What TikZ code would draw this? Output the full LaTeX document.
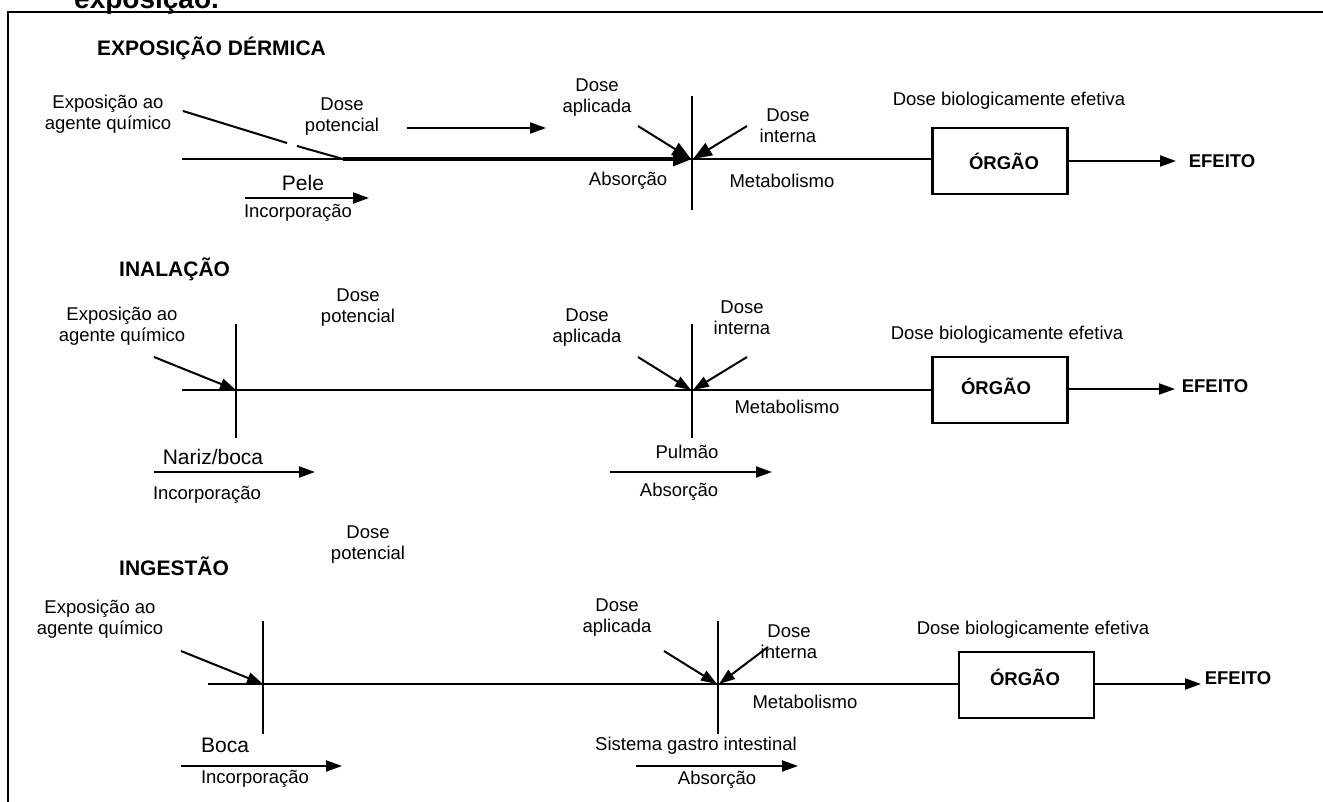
\documentclass[tikz,border=0pt]{standalone}
\usepackage{fontspec}
\setmainfont{Liberation Sans}
\usetikzlibrary{arrows.meta}
\begin{document}
\begin{tikzpicture}[x=1pt,y=-1pt,
  lbl/.style={inner sep=0pt,align=center,font=\fontsize{18.5}{21}\selectfont},
  bigl/.style={inner sep=0pt,align=center,font=\fontsize{21}{24}\selectfont},
  hd/.style={inner sep=0pt,anchor=west,font=\fontsize{21}{24}\selectfont\bfseries},
  bx/.style={draw,line width=2.2pt,minimum width=135pt,minimum height=66pt,inner sep=0pt},
  bxt/.style={inner sep=0pt,font=\fontsize{18.5}{21}\selectfont\bfseries},
  ln/.style={line width=2pt},
  arr/.style={line width=2pt,-{Triangle[length=16pt,width=11pt]}},
  barr/.style={line width=2pt,-{Triangle[length=19pt,width=14pt]}},
  frame/.style={line width=2.4pt}]
\useasboundingbox (0,0) rectangle (1323,801);
% caption fragment (cropped by the page, as in the reference)
\node[inner sep=0pt,anchor=base west,font=\fontsize{28}{30}\selectfont\bfseries] (cap) at (74,8) {exposição.};
% frame
\coordinate (fbl) at (8,802);
\coordinate (ftl) at (8,12);
\coordinate (ftr) at (1324,12);
\draw[frame] (fbl) -- (ftl) -- (ftr);

% ================= ROW 1: EXPOSIÇÃO DÉRMICA =================
\node[hd] (h1) at (97,48) {EXPOSIÇÃO DÉRMICA};
\node[lbl] (e1) at (108,114) {Exposição ao\\agente químico};
\node[lbl] (p1) at (342,117) {Dose\\potencial};
\node[lbl] (a1) at (597,98) {Dose\\aplicada};
\node[lbl] (i1) at (788,126) {Dose\\interna};
\node[lbl] (abs1) at (628,181) {Absorção};
\node[lbl] (met1) at (782,181) {Metabolismo};
\node[bigl] (pele) at (303,183) {Pele};
\node[lbl] (inc1) at (298,213) {Incorporação};
\node[lbl] (db1) at (1009,101) {Dose biologicamente efetiva};
\node[bx] (o1) at (1000,161) {};
\node[bxt] (o1t) at (1004,161) {ÓRGÃO};
\node[bxt] (ef1) at (1222,161) {EFEITO};

\coordinate (l1s) at (182,159);
\coordinate (c1) at (692,159);
\coordinate (k1) at (343,159);
\coordinate (d1a) at (183,111);
\coordinate (d1b) at (287,143);
\coordinate (d1c) at (297,146);
\coordinate (v1t) at (692,96);
\coordinate (v1b) at (692,210);
\coordinate (pa1s) at (407,128);
\coordinate (pa1e) at (546,128);
\coordinate (ap1) at (638,126);
\coordinate (in1) at (747,126);
\coordinate (pl1s) at (245,198);
\coordinate (pl1e) at (369,198);
\coordinate (ef1a) at (1176,161);

\draw[ln] (l1s) -- (o1.west |- l1s);
\draw[line width=3.2pt,-{Triangle[length=19pt,width=14pt]}] (k1) -- (c1);
\draw[ln] (d1a) -- (d1b);
\draw[ln] (d1c) -- (k1);
\draw[ln] (v1t) -- (v1b);
\draw[arr] (pa1s) -- (pa1e);
\draw[barr] (ap1) -- ([xshift=-1pt]c1);
\draw[barr] (in1) -- ([xshift=1pt]c1);
\draw[arr] (pl1s) -- (pl1e);
\draw[arr] (o1.east |- ef1a) -- (ef1a);

% ================= ROW 2: INALAÇÃO =================
\node[hd] (h2) at (119,269) {INALAÇÃO};
\node[lbl] (p2) at (358,308) {Dose\\potencial};
\node[lbl] (e2) at (122,326) {Exposição ao\\agente químico};
\node[lbl] (a2) at (587,328) {Dose\\aplicada};
\node[lbl] (i2) at (742,318) {Dose\\interna};
\node[lbl] (met2) at (787,407) {Metabolismo};
\node[bigl] (nb) at (213,457) {Nariz/boca};
\node[lbl] (inc2) at (207,495) {Incorporação};
\node[lbl] (pul) at (687,452) {Pulmão};
\node[lbl] (abs2) at (679,492) {Absorção};
\node[lbl] (db2) at (1007,335) {Dose biologicamente efetiva};
\node[bx] (o2) at (1000,390) {};
\node[bxt] (o2t) at (996,386) {ÓRGÃO};
\node[bxt] (ef2) at (1215,386) {EFEITO};

\coordinate (l2s) at (182,390);
\coordinate (x2) at (236,390);
\coordinate (v2t) at (236,324);
\coordinate (v2b) at (236,438);
\coordinate (ex2) at (154,357);
\coordinate (c2) at (692,390);
\coordinate (w2t) at (692,324);
\coordinate (w2b) at (692,438);
\coordinate (ap2) at (638,357);
\coordinate (in2) at (747,357);
\coordinate (nb2s) at (154,472);
\coordinate (nb2e) at (315,472);
\coordinate (pu2s) at (610,472);
\coordinate (pu2e) at (772,472);
\coordinate (ef2a) at (1175,389);

\draw[ln] (l2s) -- (o2.west |- l2s);
\draw[ln] (v2t) -- (v2b);
\draw[ln] (w2t) -- (w2b);
\draw[arr] (ex2) -- (x2);
\draw[arr] (ap2) -- ([xshift=-1pt]c2);
\draw[arr] (in2) -- ([xshift=1pt]c2);
\draw[arr] (nb2s) -- (nb2e);
\draw[arr] (pu2s) -- (pu2e);
\draw[arr] (o2.east |- ef2a) -- (ef2a);

% ================= ROW 3: INGESTÃO =================
\node[lbl] (p3) at (368,545) {Dose\\potencial};
\node[hd] (h3) at (119,566) {INGESTÃO};
\node[lbl] (e3) at (100,619) {Exposição ao\\agente químico};
\node[lbl] (a3) at (617,618) {Dose\\aplicada};
\node[lbl] (i3) at (789,642) {Dose\\interna};
\node[lbl] (met3) at (805,702) {Metabolismo};
\node[bigl] (boca) at (225,745) {Boca};
\node[lbl] (inc3) at (255,779) {Incorporação};
\node[lbl] (sgi) at (696,746) {Sistema gastro intestinal};
\node[lbl] (abs3) at (717,780) {Absorção};
\node[lbl] (db3) at (1033,630) {Dose biologicamente efetiva};
\node[bx] (o3) at (1026.5,685) {};
\node[bxt] (o3t) at (1025,677) {ÓRGÃO};
\node[bxt] (ef3) at (1238,678) {EFEITO};

\coordinate (l3s) at (208,684);
\coordinate (x3) at (263,684);
\coordinate (v3t) at (263,621);
\coordinate (v3b) at (263,734);
\coordinate (ex3) at (181,651);
\coordinate (c3) at (718,684);
\coordinate (w3t) at (718,621);
\coordinate (w3b) at (718,734);
\coordinate (ap3) at (664,651);
\coordinate (in3) at (768,647);
\coordinate (bo3s) at (181,766);
\coordinate (bo3e) at (342,766);
\coordinate (sg3s) at (636,766);
\coordinate (sg3e) at (798,766);
\coordinate (ef3a) at (1201,684);

\draw[ln] (l3s) -- (o3.west |- l3s);
\draw[ln] (v3t) -- (v3b);
\draw[ln] (w3t) -- (w3b);
\draw[arr] (ex3) -- (x3);
\draw[arr] (ap3) -- ([xshift=-1pt]c3);
\draw[arr] (in3) -- ([xshift=1pt]c3);
\draw[arr] (bo3s) -- (bo3e);
\draw[arr] (sg3s) -- (sg3e);
\draw[arr] (o3.east |- ef3a) -- (ef3a);
\end{tikzpicture}
\end{document}
